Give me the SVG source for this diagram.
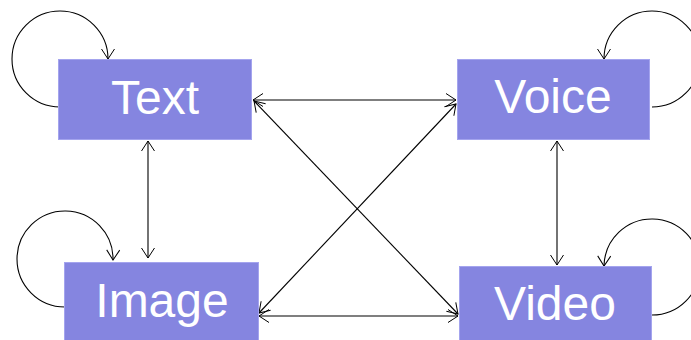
<svg xmlns="http://www.w3.org/2000/svg" width="691" height="340" viewBox="0 0 691 340">
<defs>
<marker id="ah" viewBox="-12 -8 14 16" markerWidth="14" markerHeight="16" refX="0" refY="0" orient="auto-start-reverse" markerUnits="userSpaceOnUse">
<path d="M-10,-6.5 L0,0 L-10,6.5" fill="none" stroke="#000" stroke-width="1"/>
</marker>
<style>
.box{fill:#8585E0;stroke:#A4A4EE;stroke-width:1}
.lbl{font-family:"Liberation Sans",Arial,sans-serif;font-size:48px;fill:#fff;text-anchor:middle}
.c{fill:none;stroke:#000;stroke-width:1.1}
</style>
</defs>
<rect width="691" height="340" fill="#fff"/>
<g id="connectors">
<path class="c" d="M60,107 A48,48 0 1 1 108,59" marker-end="url(#ah)"/>
<path class="c" d="M652,107 A48,48 0 1 0 604,59" marker-end="url(#ah)"/>
<path class="c" d="M65,307 A48,48 0 1 1 113,260" marker-end="url(#ah)"/>
<path class="c" d="M652,315 A48,48 0 1 0 604,266" marker-end="url(#ah)"/>
<line class="c" x1="253" y1="100" x2="456" y2="100" marker-start="url(#ah)" marker-end="url(#ah)"/>
<line class="c" x1="148" y1="141" x2="148" y2="258" marker-start="url(#ah)" marker-end="url(#ah)"/>
<line class="c" x1="557" y1="141" x2="557" y2="265" marker-start="url(#ah)" marker-end="url(#ah)"/>
<line class="c" x1="259" y1="316" x2="458" y2="316" marker-start="url(#ah)" marker-end="url(#ah)"/>
<line class="c" x1="254" y1="101" x2="458" y2="314" marker-start="url(#ah)" marker-end="url(#ah)"/>
<line class="c" x1="456" y1="104" x2="259" y2="313" marker-start="url(#ah)" marker-end="url(#ah)"/>
</g>
<g id="text-node"><rect class="box" x="58.5" y="59.5" width="193" height="80"/><text class="lbl" x="155" y="114">Text</text></g>
<g id="voice-node"><rect class="box" x="457.5" y="59.5" width="192" height="80"/><text class="lbl" x="553" y="113">Voice</text></g>
<g id="image-node"><rect class="box" x="64.5" y="262.5" width="194" height="82"/><text class="lbl" x="162" y="317">Image</text></g>
<g id="video-node"><rect class="box" x="459.5" y="266.5" width="192" height="82"/><text class="lbl" x="555" y="320">Video</text></g>
</svg>
